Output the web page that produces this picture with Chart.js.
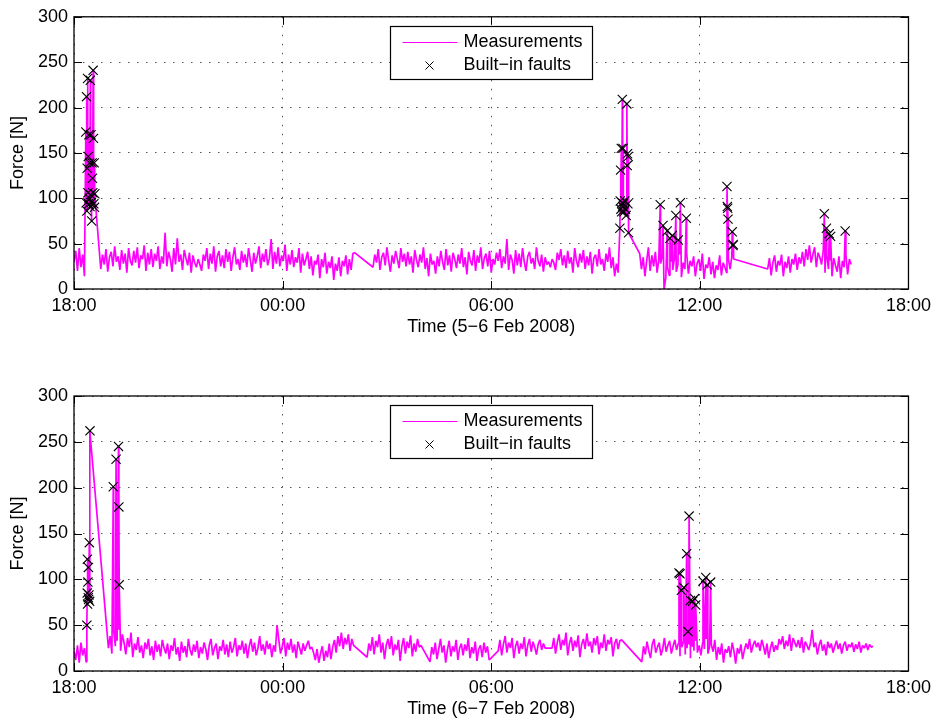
<!DOCTYPE html>
<html>
<head>
<meta charset="utf-8">
<title>Force measurements</title>
<script src="https://cdn.jsdelivr.net/npm/chart.js@4.4.1/dist/chart.umd.min.js"></script>
<style>
  html, body { margin: 0; padding: 0; background: #fff; }
  #wrap { position: relative; width: 937px; height: 720px; }
  #topChart { position: absolute; left: 0; top: 0; }
  #bottomChart { position: absolute; left: 0; top: 350px; }
</style>
</head>
<body>
<div id="wrap">
  <canvas id="topChart" width="937" height="350"></canvas>
  <canvas id="bottomChart" width="937" height="370"></canvas>
</div>
<script>
// time axis is in hours after 18:00 of the first day
const xTickLabels = ['18:00', '00:00', '06:00', '12:00', '18:00'];
const sampleStep = 0.05; // hours between logged samples

// ---- 5-6 Feb 2008 ----
const topSegStarts = [0, 0.77, 8.6, 16.27, 19.95];
const topSegA = [30, 42, 20, 45, 24, 38, 14];
const topSegB = [
  22, 38, 27, 44, 19, 35, 41, 25, 47, 30,
  36, 21, 43, 28, 39, 18, 45, 31, 26, 42,
  29, 46, 23, 37, 33, 48, 20, 40, 27, 44,
  24, 39, 31, 47, 22, 36, 28, 62, 25, 41,
  33, 19, 45, 27, 56, 30, 38, 21, 43, 34,
  26, 40, 18, 37, 29, 24, 33, 27, 20, 38,
  31, 45, 22, 39, 28, 47, 19, 36, 42, 25,
  37, 23, 44, 30, 41, 20, 35, 46, 27, 33,
  21, 42, 29, 38, 24, 45, 32, 19, 40, 28,
  36, 47, 23, 39, 30, 44, 26, 34, 55, 22,
  41, 28, 46, 25, 37, 31, 49, 20, 38, 27,
  43, 24, 35, 29, 45, 18, 39, 26, 33, 41,
  22, 36, 15, 31, 27, 38, 12, 33, 24, 40,
  17, 30, 23, 36, 10, 28, 20, 35, 14, 31,
  25, 37, 16, 33, 21, 39, 40
];
const topSegC = [
  24, 38, 29, 44, 21, 35, 40, 26, 46, 31,
  19, 37, 28, 42, 33, 23, 45, 30, 39, 25,
  41, 27, 36, 18, 43, 32, 24, 38, 29, 46,
  22, 34, 14, 39, 27, 31, 17, 36, 25, 42,
  30, 21, 44, 26, 37, 19, 40, 33, 23, 38,
  28, 45, 24, 35, 16, 41, 31, 26, 43, 20,
  37, 29, 46, 22, 34, 39, 25, 42, 18, 33,
  27, 40, 31, 44, 23, 36, 28, 55, 21, 38,
  32, 17, 43, 26, 39, 24, 45, 30, 20, 36,
  41, 28, 34, 22, 46, 31, 25, 38, 19, 35,
  27, 30, 24, 33, 29, 21, 40, 32, 44, 26,
  37, 23, 42, 28, 35, 18, 45, 31, 24, 39,
  29, 43, 22, 36, 26, 41, 17, 34, 38, 25,
  44, 27, 33, 20, 39, 30, 46, 23, 35, 14,
  28, 18
];
const topSegD = [
  39, 22, 35, 14, 31, 46, 20, 37, 25, 41,
  18, 33, 28, 36, 0, 12, 24, 15, 30, 21,
  34, 19, 27, 38, 13, 29, 22, 40, 17, 31,
  25, 36, 14, 28, 33, 20, 39, 11, 27, 23,
  35, 16, 30, 12, 26, 21, 37, 15, 29, 24,
  18, 33, 22, 36, 33
];
const topSegE = [
  22, 34, 15, 29, 37, 19, 31, 26, 38, 14,
  30, 23, 36, 18, 33, 27, 39, 21, 35, 28,
  41, 25, 44, 32, 48, 29, 38, 46, 24, 40,
  35, 27, 43, 18, 37, 22, 32, 14, 34, 26,
  19, 36, 12, 31, 24, 38, 16, 33, 27
];
const topFaultTimes = [
  0.34, 0.35, 0.36, 0.37, 0.38, 0.39, 0.40, 0.41, 0.42, 0.43, 0.44, 0.45, 0.46, 0.47,
  0.48, 0.49, 0.50, 0.51, 0.52, 0.53, 0.54, 0.55, 0.56, 0.57, 0.58, 0.59, 0.60,
  15.70, 15.71, 15.72, 15.73, 15.74, 15.75, 15.76, 15.77, 15.78, 15.79, 15.80,
  15.82, 15.84, 15.86, 15.88, 15.90, 15.91, 15.92, 15.93, 15.94, 15.95,
  16.86, 16.94, 17.06, 17.14, 17.21, 17.31, 17.38, 17.44, 17.61,
  18.78, 18.79, 18.80, 18.81, 18.93, 18.95, 18.96,
  21.58, 21.64, 21.72, 21.76, 22.18
];
const topFaultForces = [
  173, 95, 212, 86, 133, 232, 106, 146, 94, 170, 100, 139, 91, 230,
  104, 170, 95, 75, 139, 122, 106, 241, 166, 94, 139, 90, 105,
  67, 97, 131, 88, 155, 85, 95, 209, 91, 155, 94,
  85, 97, 88, 81, 204, 136, 149, 94, 146, 62,
  93, 70, 64, 56, 59, 81, 54, 95, 78,
  113, 91, 89, 77, 63, 48, 49,
  83, 67, 61, 58, 64
];

// ---- 6-7 Feb 2008 ----
const bottomSegStarts = [0, 0.99, 8.43, 10.24, 12.2, 13.75, 16.33];
const bottomSegA = [22, 12, 28, 9, 31, 17, 25, 10];
const bottomSegB = [
  25, 38, 19, 44, 27, 33, 45, 22, 40, 31,
  18, 36, 26, 42, 15, 30, 23, 37, 20, 28,
  14, 31, 24, 35, 17, 27, 12, 33, 21, 29,
  16, 34, 25, 19, 30, 13, 28, 22, 36, 18,
  26, 11, 32, 20, 27, 15, 35, 23, 17, 29,
  21, 33, 14, 26, 19, 31, 24, 12, 28, 35,
  17, 25, 30, 13, 27, 22, 34, 18, 29, 15,
  32, 20, 26, 36, 16, 28, 23, 33, 19, 30,
  14, 27, 35, 21, 31, 17, 25, 38, 22, 29,
  18, 33, 24, 30, 15, 28, 21, 50, 34, 19,
  27, 36, 16, 31, 23, 35, 20, 29, 14, 32,
  25, 18, 30, 22, 28, 33, 24, 26, 20, 12,
  24, 9, 19, 27, 11, 22, 15, 30, 13, 26,
  34, 20, 38, 27, 42, 24, 36, 29, 40, 22,
  35, 28
];
const bottomSegC = [
  15, 30, 22, 37, 18, 33, 26, 40, 20, 31,
  13, 28, 35, 24, 38, 17, 29, 23, 34, 11,
  27, 36, 19, 32, 25, 39, 16, 30, 21, 35,
  26, 28
];
const bottomSegD = [
  10, 26, 18, 31, 13, 24, 35, 20, 28, 9,
  23, 33, 16, 27, 21, 34, 12, 25, 30, 17,
  29, 22, 36, 14, 26, 19, 32, 11, 24, 28,
  15, 31, 20, 27, 12
];
const bottomSegE = [
  22, 34, 17, 29, 38, 20, 31, 25, 36, 14,
  27, 33, 19, 30, 24, 37, 16, 28, 35, 21,
  32, 26, 18, 29, 34, 23, 30, 25
];
const bottomSegF = [
  25, 36, 19, 31, 40, 23, 34, 28, 42, 17,
  30, 37, 22, 33, 26, 39, 15, 29, 35, 24,
  41, 27, 32, 20, 36, 28, 38, 18, 31, 25,
  40, 22, 34, 29, 37, 16, 30, 35, 24, 33,
  34
];
const bottomSegG = [
  10, 27, 18, 32, 22, 14, 29, 35, 20, 26,
  31, 17, 24, 36, 21, 28, 33, 19, 27, 34,
  23, 30, 16, 26, 32, 18, 25, 29, 14, 27,
  22, 33, 20, 28, 17, 31, 24, 35, 19, 26,
  29, 21, 34, 12, 26, 18, 30, 9, 24, 20,
  27, 15, 31, 22, 8, 25, 19, 29, 13, 23,
  30, 24, 35, 20, 28, 33, 26, 31, 22, 34,
  27, 18, 30, 14, 25, 32, 21, 28, 23, 35,
  29, 38, 24, 33, 27, 40, 22, 36, 31, 26,
  34, 25, 37, 20, 32, 28, 23, 30, 45, 26,
  31, 18, 28, 34, 22, 29, 17, 32, 25, 30,
  20, 27, 33, 24, 30, 19, 28, 32, 22, 29,
  26, 31, 21, 29, 24, 32, 20, 28, 25, 30,
  23, 29, 26, 27
];
const bottomFaultTimes = [
  0.37, 0.38, 0.385, 0.39, 0.40, 0.41, 0.415, 0.42, 0.43, 0.44, 0.45, 0.46,
  1.13, 1.21, 1.28, 1.29, 1.30,
  17.40, 17.43, 17.47, 17.54, 17.62, 17.66, 17.69, 17.73, 17.79, 17.85, 17.88,
  18.09, 18.17, 18.21, 18.31
];
const bottomFaultForces = [
  50, 85, 122, 73, 97, 80, 113, 78, 83, 140, 76, 262,
  201, 231, 245, 179, 94,
  107, 106, 88, 91, 128, 43, 169, 77, 76, 79, 72,
  98, 102, 94, 97
];

function segPoints(starts, segs) {
  const pts = [];
  segs.forEach((vals, s) => {
    vals.forEach((v, i) => pts.push({ x: starts[s] + i * sampleStep, y: v }));
  });
  return pts;
}
function faultPoints(times, forces) {
  return times.map((t, i) => ({ x: t, y: forces[i] }));
}

const FONT = "'Liberation Sans', Arial, Helvetica, sans-serif";
Chart.defaults.font.family = FONT;
Chart.defaults.font.size = 18;
Chart.defaults.color = '#000';

// MATLAB style box, inward ticks and legend
const axesBox = {
  id: 'axesBox',
  afterDraw(chart) {
    const { ctx, chartArea: a } = chart;
    const xs = chart.scales.x, ys = chart.scales.y;
    ctx.save();
    ctx.strokeStyle = '#000';
    ctx.lineWidth = 1;
    ctx.beginPath();
    xs.ticks.forEach(t => {
      const px = Math.round(xs.getPixelForValue(t.value)) + 0.5;
      ctx.moveTo(px, a.bottom); ctx.lineTo(px, a.bottom - 8);
      ctx.moveTo(px, a.top); ctx.lineTo(px, a.top + 8);
    });
    ys.ticks.forEach(t => {
      const py = Math.round(ys.getPixelForValue(t.value)) + 0.5;
      ctx.moveTo(a.left, py); ctx.lineTo(a.left + 8, py);
      ctx.moveTo(a.right, py); ctx.lineTo(a.right - 8, py);
    });
    ctx.stroke();
    ctx.lineWidth = 1.3;
    ctx.strokeRect(a.left, a.top, a.right - a.left, a.bottom - a.top);

    // legend
    const cx = xs.getPixelForValue(12);
    const bx = Math.round(cx - 101) + 0.5, by = Math.round(a.top + 9) + 0.5;
    ctx.fillStyle = '#fff';
    ctx.fillRect(bx, by, 202, 53);
    ctx.lineWidth = 1.2;
    ctx.strokeStyle = '#000';
    ctx.strokeRect(bx, by, 202, 53);
    ctx.strokeStyle = '#ff00ff';
    ctx.lineWidth = 1;
    ctx.beginPath();
    ctx.moveTo(bx + 12, by + 16); ctx.lineTo(bx + 67, by + 16);
    ctx.stroke();
    ctx.strokeStyle = '#000';
    ctx.beginPath();
    const mx = bx + 39, my = by + 39;
    ctx.moveTo(mx - 4, my - 4); ctx.lineTo(mx + 4, my + 4);
    ctx.moveTo(mx - 4, my + 4); ctx.lineTo(mx + 4, my - 4);
    ctx.stroke();
    ctx.fillStyle = '#000';
    ctx.font = '18px ' + FONT;
    ctx.textBaseline = 'middle';
    ctx.textAlign = 'left';
    ctx.fillText('Measurements', bx + 73, by + 16);
    ctx.fillText('Built\u2212in faults', bx + 73, by + 39);
    ctx.restore();
  }
};

function makeChart(id, lineData, faultData, xTitle, padTop, axisH, titlePad) {
  return new Chart(document.getElementById(id), {
    type: 'line',
    data: {
      datasets: [
        {
          label: 'Built\u2212in faults',
          data: faultData,
          showLine: false,
          pointStyle: 'crossRot',
          pointRadius: 6.5,
          pointBorderWidth: 1.1,
          pointBorderColor: '#000',
          borderColor: '#000',
          order: 0
        },
        {
          label: 'Measurements',
          data: lineData,
          borderColor: '#ff00ff',
          borderWidth: 1.7,
          borderJoinStyle: 'bevel',
          pointRadius: 0,
          tension: 0,
          order: 1
        }
      ]
    },
    options: {
      responsive: false,
      animation: false,
      events: [],
      layout: { padding: { top: padTop, right: 28, left: 0, bottom: 0 } },
      plugins: { legend: { display: false }, tooltip: { enabled: false } },
      scales: {
        x: {
          type: 'linear',
          min: 0, max: 24,
          afterFit: s => { s.height = axisH; },
          ticks: { stepSize: 6, padding: 6, maxRotation: 0, callback: (v, i) => xTickLabels[i] },
          grid: { color: '#555', lineWidth: 1, drawTicks: false },
          border: { display: false, dash: [1.5, 7.5] },
          title: { display: true, text: xTitle, padding: { top: 0, bottom: titlePad } }
        },
        y: {
          min: 0, max: 300,
          afterFit: s => { s.width = 74; },
          ticks: { stepSize: 50, padding: 6 },
          grid: { color: '#555', lineWidth: 1, drawTicks: false },
          border: { display: false, dash: [1.5, 7.5] },
          title: { display: true, text: 'Force [N]', padding: { top: 7.5, bottom: 0 } }
        }
      }
    },
    plugins: [axesBox]
  });
}

const topLine = segPoints(topSegStarts, [topSegA, topSegB, topSegC, topSegD, topSegE])
  .concat(faultPoints(topFaultTimes, topFaultForces))
  .sort((a, b) => a.x - b.x);
const bottomLine = segPoints(bottomSegStarts, [bottomSegA, bottomSegB, bottomSegC, bottomSegD, bottomSegE, bottomSegF, bottomSegG])
  .concat(faultPoints(bottomFaultTimes, bottomFaultForces))
  .sort((a, b) => a.x - b.x);

makeChart('topChart', topLine, faultPoints(topFaultTimes, topFaultForces),
  'Time (5\u22126 Feb 2008)', 14, 61, 12);
makeChart('bottomChart', bottomLine, faultPoints(bottomFaultTimes, bottomFaultForces),
  'Time (6\u22127 Feb 2008)', 46, 49, 0);
</script>
</body>
</html>
